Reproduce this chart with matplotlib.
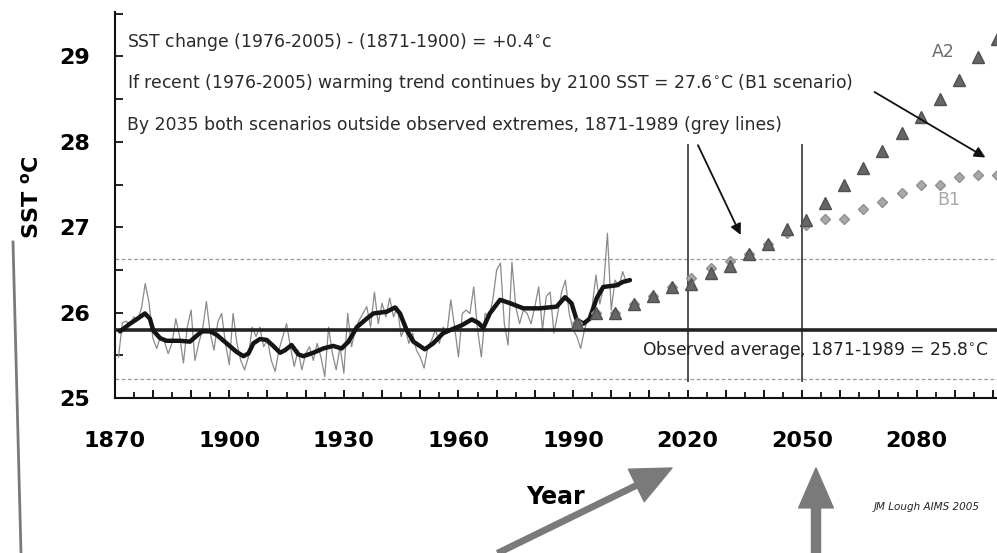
import numpy as np
import matplotlib
matplotlib.use("Agg")
import matplotlib.pyplot as plt
from matplotlib.lines import Line2D

# ---------------- data ----------------
obs_years = list(range(1871, 2006))
obs_sst = [
    25.48, 25.88, 25.90, 25.86, 25.95, 25.92, 26.05, 26.34, 26.11, 25.70,   # 1871-1880
    25.58, 25.72, 25.66, 25.52, 25.64, 25.93, 25.72, 25.41, 25.83, 26.03,   # 1881-1890
    25.44, 25.64, 25.80, 26.13, 25.76, 25.56, 25.89, 25.99, 25.64, 25.39,   # 1891-1900
    25.99, 25.64, 25.44, 25.33, 25.48, 25.83, 25.72, 25.83, 25.60, 25.68,   # 1901-1910
    25.44, 25.31, 25.56, 25.72, 25.87, 25.60, 25.37, 25.56, 25.33, 25.52,   # 1911-1920
    25.60, 25.44, 25.64, 25.48, 25.25, 25.83, 25.52, 25.33, 25.60, 25.29,   # 1921-1930
    25.99, 25.60, 25.80, 25.91, 25.99, 26.07, 25.83, 26.24, 25.87, 26.11,   # 1931-1940
    25.95, 26.17, 25.95, 26.07, 25.72, 25.83, 25.64, 25.76, 25.56, 25.48,   # 1941-1950
    25.35, 25.60, 25.68, 25.80, 25.64, 25.83, 25.76, 26.15, 25.83, 25.48,   # 1951-1960
    25.99, 26.03, 25.99, 26.30, 25.80, 25.48, 25.99, 25.95, 26.15, 26.50,   # 1961-1970
    26.58, 25.87, 25.62, 26.59, 26.07, 25.87, 26.03, 25.99, 25.87, 26.07,   # 1971-1980
    26.30, 25.80, 26.19, 26.24, 25.76, 25.99, 26.24, 26.38, 25.99, 25.80,   # 1981-1990
    25.72, 25.58, 25.80, 25.95, 26.07, 26.44, 26.10, 26.30, 26.93, 26.03,   # 1991-2000
    26.38, 26.30, 26.48, 26.35, 26.40,                                      # 2001-2005
]

smooth_years = [1871.4, 1874.0, 1875.7, 1877.9, 1879.2, 1880.1, 1881.9, 1883.6, 1887.1,
                1889.7, 1891.5, 1892.8, 1895.0, 1896.7, 1899.3, 1901.9, 1903.7, 1905.0,
                1906.3, 1908.0, 1909.8, 1911.5, 1913.3, 1914.6, 1916.3, 1918.1, 1919.4,
                1922.0, 1924.6, 1927.2, 1929.4, 1931.2, 1933.4, 1936.0, 1937.7, 1941.2,
                1943.4, 1944.7, 1946.4, 1948.2, 1951.2, 1953.4, 1956.0, 1958.6, 1960.8,
                1963.5, 1965.2, 1966.5, 1968.2, 1970.9, 1973.5, 1977.0, 1981.3, 1985.7,
                1987.9, 1989.6, 1990.9, 1992.7, 1994.4, 1996.2, 1997.9, 2001.4, 2003.1,
                2004.9]
smooth_sst = [25.78, 25.87, 25.92, 25.99, 25.93, 25.79, 25.70, 25.67, 25.67,
              25.66, 25.73, 25.78, 25.78, 25.74, 25.64, 25.54, 25.49, 25.52,
              25.64, 25.69, 25.68, 25.61, 25.53, 25.56, 25.62, 25.51, 25.49,
              25.53, 25.58, 25.61, 25.58, 25.66, 25.83, 25.93, 25.99, 26.01,
              26.06, 25.99, 25.80, 25.66, 25.57, 25.64, 25.76, 25.81, 25.85,
              25.92, 25.88, 25.82, 25.99, 26.15, 26.11, 26.05, 26.05, 26.07,
              26.18, 26.11, 25.92, 25.87, 25.93, 26.17, 26.30, 26.32, 26.36,
              26.38]

proj_years = [1991, 1996, 2001, 2006, 2011, 2016, 2021, 2026, 2031, 2036, 2041, 2046,
              2051, 2056, 2061, 2066, 2071, 2076, 2081, 2086, 2091, 2096, 2101]
a2_sst = [25.88, 26.00, 26.00, 26.10, 26.20, 26.30, 26.33, 26.46, 26.54, 26.69, 26.80, 26.98,
          27.08, 27.28, 27.50, 27.69, 27.89, 28.10, 28.29, 28.50, 28.72, 28.99, 29.20]
b1_sst = [25.88, 26.00, 26.00, 26.10, 26.20, 26.30, 26.41, 26.52, 26.61, 26.69, 26.80, 26.93,
          27.03, 27.10, 27.10, 27.21, 27.30, 27.40, 27.49, 27.50, 27.59, 27.61, 27.61]

observed_mean = 25.8
observed_max = 26.63
observed_min = 25.22
marker_years = [2020, 2050]

x_tick_labels = [1870, 1900, 1930, 1960, 1990, 2020, 2050, 2080]
y_tick_labels = [25, 26, 27, 28, 29]

# ---------------- figure ----------------
W, H = 997, 553
fig = plt.figure(figsize=(W / 100, H / 100), dpi=100)
fig.patch.set_facecolor("white")


def fp(x, y):
    """pixel (from top-left) -> figure fraction"""
    return x / W, 1 - y / H


ax = fig.add_axes([114.7 / W, 1 - 398 / H, (W - 114.7) / W, 386 / H])
ax.set_xlim(1870, 2101)
ax.set_ylim(25, 29.52)

for s in ["top", "right"]:
    ax.spines[s].set_visible(False)
for s in ["left", "bottom"]:
    ax.spines[s].set_linewidth(1.5)
    ax.spines[s].set_color("#111111")

# reference lines
ax.axhline(observed_max, color="#9a9a9a", lw=0.9, ls=(0, (3, 2)), zorder=1)
ax.axhline(observed_min, color="#9a9a9a", lw=0.9, ls=(0, (3, 2)), zorder=1)
ax.axhline(observed_mean, color="#222222", lw=2.6, zorder=3)
ax.vlines(marker_years, observed_min - 0.03, 27.98, color="#444444", lw=1.3, zorder=2)

# observations
ax.plot(obs_years, obs_sst, color="#8a8a8a", lw=0.9, zorder=2)
ax.plot(smooth_years, smooth_sst, color="#151515", lw=3.2, zorder=4,
        solid_capstyle="round", solid_joinstyle="round")

# projections
ax.plot(proj_years, b1_sst, ls="none", marker="D", ms=5.5, color="#a8a8a8",
        markeredgecolor="#909090", zorder=5, clip_on=False)
ax.plot(proj_years, a2_sst, ls="none", marker="^", ms=8, color="#666666",
        markeredgecolor="#505050", zorder=6, clip_on=False)

# ticks
ax.set_xticks(np.arange(1870, 2101, 10))
ax.set_xticks(np.arange(1875, 2101, 10), minor=True)
ax.set_xticklabels([str(v) if v in x_tick_labels else "" for v in np.arange(1870, 2101, 10)])
ax.set_yticks(y_tick_labels)
ax.set_yticks(np.arange(25.5, 29.6, 1.0), minor=True)
ax.tick_params(axis="x", which="major", direction="in", length=6, width=1.3, pad=23.5,
               labelsize=16)
ax.tick_params(axis="x", which="minor", direction="in", length=4, width=1.2)
ax.tick_params(axis="y", which="both", direction="in", length=6, width=1.2, pad=17.5,
               labelsize=16)
for lab in ax.get_xticklabels() + ax.get_yticklabels():
    lab.set_fontweight("bold")

ax.set_xlabel("Year", fontsize=17, fontweight="bold")
ax.xaxis.set_label_coords(0.5, -0.225)
ax.set_ylabel("SST $\\mathbf{^{o}}$C", fontsize=16, fontweight="bold")
ax.yaxis.set_label_coords(-0.082, 0.52)

# annotation texts
tcol = "#2a2a2a"
t1 = fig.text(*fp(127, 42), "SST change (1976-2005) - (1871-1900) = +0.4$^{\\circ}$c",
              fontsize=12, color=tcol, va="center", ha="left")
t2 = fig.text(*fp(127, 83), "If recent (1976-2005) warming trend continues by 2100 SST = 27.6$^{\\circ}$C (B1 scenario)",
              fontsize=12, color=tcol, va="center", ha="left")
t3 = fig.text(*fp(127, 125), "By 2035 both scenarios outside observed extremes, 1871-1989 (grey lines)",
              fontsize=12, color=tcol, va="center", ha="left")
t4 = fig.text(*fp(642, 350), "Observed average, 1871-1989 = 25.8$^{\\circ}$C",
              fontsize=13, color="#222222", va="center", ha="left")
fig.canvas.draw()
rend = fig.canvas.get_renderer()
for t, target in [(t1, 425), (t2, 725), (t3, 650), (t4, 345)]:
    w = t.get_window_extent(rend).width
    t.set_fontsize(t.get_fontsize() * target / w)

fig.text(*fp(943, 52), "A2", fontsize=12.5, color="#6a6a6a", ha="center", va="center")
fig.text(*fp(949, 200), "B1", fontsize=12.5, color="#a8a8a8", ha="center", va="center")
fig.text(*fp(874, 507), "JM Lough AIMS 2005", fontsize=7.5, style="italic",
         color="#222222", ha="left", va="center")

# arrows inside plot
ax.annotate("", xy=(2034.2, 26.88), xytext=(2022.4, 27.99),
            arrowprops=dict(arrowstyle="-|>", color="#111111", lw=1.3, mutation_scale=16),
            zorder=7)
ax.annotate("", xy=(2098.6, 27.80), xytext=(2068.3, 28.60),
            arrowprops=dict(arrowstyle="-|>", color="#111111", lw=1.3, mutation_scale=16),
            zorder=7, annotation_clip=False)

# arrows below the plot (figure pixels, origin bottom-left)
ax.annotate("", xy=(672, H - 468), xytext=(498, 0), xycoords="figure pixels",
            textcoords="figure pixels", annotation_clip=False,
            arrowprops=dict(arrowstyle="simple,tail_width=0.15,head_width=1.0,head_length=1.1",
                            color="#7a7a7a", mutation_scale=26, shrinkA=0, shrinkB=0))
ax.annotate("", xy=(816, H - 468), xytext=(816, 0), xycoords="figure pixels",
            textcoords="figure pixels", annotation_clip=False,
            arrowprops=dict(arrowstyle="simple,tail_width=0.26,head_width=1.0,head_length=1.15",
                            color="#7a7a7a", mutation_scale=25, shrinkA=0, shrinkB=0))

# thin line at left edge
x0, y0 = fp(13, 242)
x1, y1 = fp(21, 553)
fig.add_artist(Line2D([x0, x1], [y0, y1], transform=fig.transFigure, color="#7a7a7a", lw=2))

fig.savefig("out.png", dpi=100, facecolor="white")
